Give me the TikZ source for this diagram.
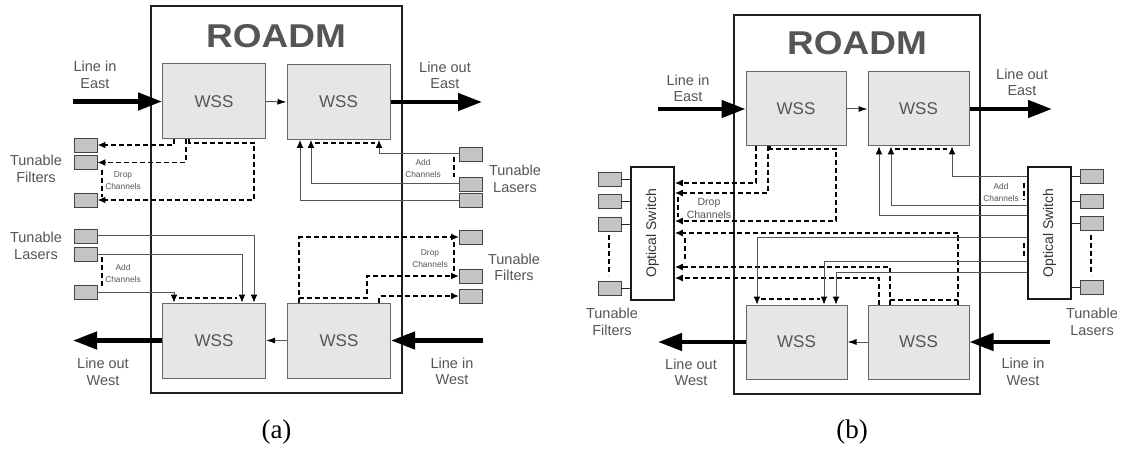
\documentclass[tikz,border=0pt]{standalone}
\usepackage{fontspec}
\usepackage{graphicx}
\setmainfont{Liberation Sans}
\newfontfamily\capfont{Liberation Serif}
\usetikzlibrary{arrows.meta}
\definecolor{wssfill}{HTML}{E6E6E6}
\definecolor{wssborder}{HTML}{666666}
\definecolor{boxfill}{HTML}{C4C4C4}
\definecolor{boxborder}{HTML}{444444}
\definecolor{txtgray}{HTML}{555555}
\definecolor{addgray}{HTML}{555555}
\tikzset{
  panel/.style={draw=black!88, line width=1.6pt, inner sep=0},
  title/.style={font=\fontsize{33}{36}\bfseries\selectfont, text=txtgray, inner sep=0},
  wss/.style={draw=wssborder, fill=wssfill, line width=1pt, minimum width=103, minimum height=75, inner sep=0, font=\fontsize{17}{20}\selectfont, text=txtgray},
  smallbox/.style={draw=boxborder, fill=boxfill, line width=0.9pt, minimum width=23, minimum height=14, inner sep=0},
  switchbox/.style={draw=black!90, line width=1.5pt, fill=white, minimum width=43, minimum height=133, inner sep=0},
  swtext/.style={rotate=90, font=\fontsize{14}{16}\selectfont, text=black!80, inner sep=0},
  lbl/.style={font=\fontsize{14.5}{16.5}\selectfont, text=txtgray, align=center, inner sep=0},
  tinylbl/.style={font=\fontsize{8.4}{12}\selectfont, text=txtgray, align=center, inner sep=0},
  caption/.style={font=\capfont\fontsize{27}{30}\selectfont, inner sep=0},
  thickarrow/.style={line width=4.5pt, black, -{Triangle[length=24pt,width=17pt]}},
  link/.style={line width=1pt, addgray, -{Latex[length=9pt,width=6pt,color=black]}},
  addline/.style={line width=1pt, addgray, -{Latex[length=8pt,width=7pt,color=black]}},
  dropline/.style={line width=1.6pt, black, dash pattern=on 5pt off 3pt, -{Latex[length=8pt,width=7pt]}},
  moreline/.style={line width=1.5pt, black, dash pattern=on 5pt off 3pt},
}
\begin{document}
\begin{tikzpicture}[x=1pt,y=-1pt]
\useasboundingbox (0,0) rectangle (1127,449);
\fill[white] (0,0) rectangle (1127,449);

% ================= Panel (a) =================
\node[panel, minimum width=251, minimum height=387] (roadmA) at (276.5,199.5) {};
\node[title] (titleA) at (276,36) {\scalebox{1.12}[1]{ROADM}};
\node[wss] (wssA1) at (214,101.5) {WSS};
\node[wss] (wssA2) at (338.5,102) {WSS};
\node[wss] (wssA3) at (214,340.5) {WSS};
\node[wss] (wssA4) at (339,340.5) {WSS};
\draw[link] (wssA1.east) -- (wssA2.west);
\draw[link] (wssA4.west) -- (wssA3.east);

\coordinate (lieA) at (73,101.5);
\coordinate (loeA) at (482,102);
\coordinate (liwA) at (483,340.5);
\coordinate (lowA) at (73,340.5);
\draw[thickarrow] (lieA) -- (wssA1.west);
\draw[thickarrow] (wssA2.east) -- (loeA);
\draw[thickarrow] (liwA) -- (wssA4.east);
\draw[thickarrow] (wssA3.west) -- (lowA);
\node[lbl] (tlieA) at (95,75) {Line in\\East};
\node[lbl] (tloeA) at (445,75.5) {Line out\\East};
\node[lbl] (tlowA) at (103,372) {Line out\\West};
\node[lbl] (tliwA) at (452,371.5) {Line in\\West};

% top-left drop to tunable filters
\node[smallbox] (fA1) at (85.5,145) {};
\node[smallbox] (fA2) at (85.5,162.5) {};
\node[smallbox] (fA3) at (85.5,200) {};
\draw[dropline] (wssA1.south -| 174,0) |- (fA1.east);
\draw[dropline] (wssA1.south -| 186,0) |- (fA2.east);
\draw[dropline] (wssA1.south -| 189,0) -- (189,143) -| (fA3.east -| 254,0) -- (fA3.east);
\draw[moreline] (102,170) -- (102,197);
\node[tinylbl] (dcA1) at (123,181) {Drop\\Channels};
\node[lbl] (tfA1) at (36,169) {Tunable\\Filters};

% top-right add from tunable lasers
\node[smallbox] (lA1) at (471,154) {};
\node[smallbox] (lA2) at (471,184) {};
\node[smallbox] (lA3) at (471,200.5) {};
\draw[addline] (lA1.west) -| (wssA2.south -| 379,0);
\draw[addline] (lA2.west) -| (wssA2.south -| 311,0);
\draw[addline] (lA3.west) -| (wssA2.south -| 300,0);
\draw[moreline] (315,143) -- (375,143);
\draw[moreline] (454,157) -- (454,177);
\node[tinylbl] (acA1) at (423,168) {Add\\Channels};
\node[lbl] (tlA1) at (515,179) {Tunable\\Lasers};

% bottom-left add from tunable lasers
\node[smallbox] (lB1) at (85.5,236) {};
\node[smallbox] (lB2) at (85.5,254) {};
\node[smallbox] (lB3) at (85.5,292) {};
\draw[addline] (lB1.east) -| (wssA3.north -| 254,0);
\draw[addline] (lB2.east) -| (wssA3.north -| 242,0);
\draw[addline] (lB3.east) -| (wssA3.north -| 174,0);
\draw[moreline] (179,298) -- (237,298);
\draw[moreline] (102,257) -- (102,287);
\node[tinylbl] (acA2) at (123,273) {Add\\Channels};
\node[lbl] (tlA2) at (36,246) {Tunable\\Lasers};

% bottom-right drop to tunable filters
\node[smallbox] (fB1) at (471,237) {};
\node[smallbox] (fB2) at (471,276) {};
\node[smallbox] (fB3) at (471,296) {};
\draw[dropline] (wssA4.north -| 299,0) |- (fB1.west);
\draw[dropline] (299,298) -| (fB2.west -| 367,0) -- (fB2.west);
\draw[dropline] (wssA4.north -| 379,0) |- (fB3.west);
\draw[moreline] (454,242) -- (454,272);
\node[tinylbl] (dcA2) at (430,259) {Drop\\Channels};
\node[lbl] (tfA2) at (514,267.5) {Tunable\\Filters};

\node[caption] (capA) at (276.5,432) {(a)};

% ================= Panel (b) =================
\node[panel, minimum width=246, minimum height=379] (roadmB) at (857,204.5) {};
\node[title] (titleB) at (857,43.5) {\scalebox{1.12}[1]{ROADM}};
\node[wss, minimum width=100, minimum height=74] (wssB1) at (796,109) {WSS};
\node[wss, minimum width=101, minimum height=74] (wssB2) at (918.5,109) {WSS};
\node[wss, minimum width=101, minimum height=74] (wssB3) at (796.5,342) {WSS};
\node[wss, minimum width=101, minimum height=74] (wssB4) at (918.5,342) {WSS};
\draw[link] (wssB1.east) -- (wssB2.west);
\draw[link] (wssB4.west) -- (wssB3.east);

\coordinate (lieB) at (658,109);
\coordinate (loeB) at (1052,109);
\coordinate (liwB) at (1050,342);
\coordinate (lowB) at (658,342);
\draw[thickarrow] (lieB) -- (wssB1.west);
\draw[thickarrow] (wssB2.east) -- (loeB);
\draw[thickarrow] (liwB) -- (wssB4.east);
\draw[thickarrow] (wssB3.west) -- (lowB);
\node[lbl] (tlieB) at (688,88.5) {Line in\\East};
\node[lbl] (tloeB) at (1022,82.5) {Line out\\East};
\node[lbl] (tlowB) at (691,372.5) {Line out\\West};
\node[lbl] (tliwB) at (1023,372) {Line in\\West};

% left optical switch + tunable filters
\node[switchbox] (swL) at (652.5,233.5) {};
\node[swtext] (swLt) at (swL.center) {Optical Switch};
\node[smallbox] (fC1) at (609.5,179) {};
\node[smallbox] (fC2) at (609.5,201.5) {};
\node[smallbox] (fC3) at (609.5,224) {};
\node[smallbox] (fC4) at (609.5,288) {};
\foreach \b in {fC1,fC2,fC3,fC4} \draw[line width=0.9pt, black!85] (\b.east) -- (\b.east -| swL.west);
\draw[moreline] (609,235) -- (609,275);
\node[lbl] (tfC) at (612,322) {Tunable\\Filters};

% right optical switch + tunable lasers
\node[switchbox, minimum height=132] (swR) at (1049.5,233) {};
\node[swtext] (swRt) at (swR.center) {Optical Switch};
\node[smallbox] (lC1) at (1092,176) {};
\node[smallbox] (lC2) at (1092,201) {};
\node[smallbox] (lC3) at (1092,223.5) {};
\node[smallbox] (lC4) at (1092,287.5) {};
\foreach \b in {lC1,lC2,lC3,lC4} \draw[line width=0.9pt, black!85] (\b.west) -- (\b.west -| swR.east);
\draw[moreline] (1091,235) -- (1091,275);
\node[lbl] (tlC) at (1092,322) {Tunable\\Lasers};

% drops to left switch
\draw[dropline] (wssB1.south -| 756,0) |- (swL.east |- 0,183);
\draw[dropline] (wssB1.south -| 768,0) |- (swL.east |- 0,193);
\draw[dropline] (wssB1.south -| 770,0) -- (770,149) -| (836,221) -- (swL.east |- 0,221);
\draw[dropline] (wssB4.north -| 958,0) |- (swL.east |- 0,233);
\draw[dropline] (wssB4.north -| 890,0) |- (swL.east |- 0,267);
\draw[dropline] (wssB4.north -| 879,0) |- (swL.east |- 0,278);
\draw[moreline] (890,300) -- (958,300);
\draw[moreline] (678,197) -- (678,217);
\draw[moreline] (685,238) -- (685,262);
\node[tinylbl, font=\fontsize{10.5}{13}\selectfont] (dcB) at (709,208.5) {Drop\\Channels};

% adds from right switch
\draw[addline] (swR.west |- 0,177) -| (wssB2.south -| 952,0);
\draw[addline] (swR.west |- 0,206) -| (wssB2.south -| 891,0);
\draw[addline] (swR.west |- 0,216) -| (wssB2.south -| 879,0);
\draw[moreline] (895,149) -- (947,149);
\draw[addline] (swR.west |- 0,238) -| (wssB3.north -| 757,0);
\draw[addline] (swR.west |- 0,261) -| (wssB3.north -| 824,0);
\draw[addline] (swR.west |- 0,272) -| (wssB3.north -| 836,0);
\draw[moreline] (761,299) -- (820,299);
\draw[moreline] (1024,183) -- (1024,200);
\draw[moreline] (1024,243) -- (1024,257);
\node[tinylbl] (acB) at (1001,192.5) {Add\\Channels};

\node[caption] (capB) at (852,432) {(b)};
\end{tikzpicture}
\end{document}
